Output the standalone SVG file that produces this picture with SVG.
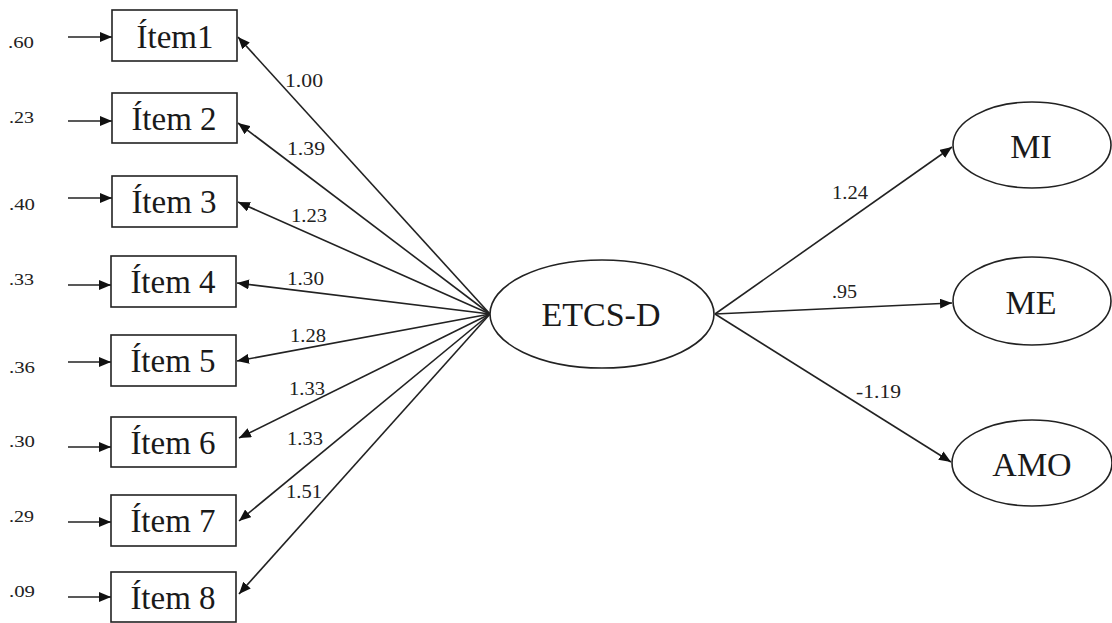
<svg xmlns="http://www.w3.org/2000/svg" width="1112" height="623" viewBox="0 0 1112 623">
  <style>
    .box { fill: #fff; stroke: #222; stroke-width: 1.6; }
    .lat { fill: #fff; stroke: #222; stroke-width: 1.6; }
    .name { font-family: "Liberation Serif", "Times New Roman", serif; font-size: 33px; fill: #1a1a1a; text-anchor: middle; }
    .coef { font-family: "Liberation Serif", "Times New Roman", serif; font-size: 18px; fill: #222; }
    .err { font-family: "Liberation Serif", "Times New Roman", serif; font-size: 16px; fill: #222; }
    .path { stroke: #222; stroke-width: 1.6; fill: none; marker-end: url(#head); }
  </style>
  <defs>
    <marker id="head" viewBox="0 0 12 10" refX="12" refY="5" markerWidth="12" markerHeight="10" markerUnits="userSpaceOnUse" orient="auto">
      <path d="M0,0 L12,5 L0,10 Z" fill="#111"/>
    </marker>
  </defs>

  <rect width="1112" height="623" fill="#fff"/>

  <!-- connectors -->
  <g id="connectors">
    <!-- error terms into the items -->
    <line class="path" x1="68" y1="37" x2="112" y2="37"/>
    <line class="path" x1="68" y1="121" x2="112" y2="121"/>
    <line class="path" x1="68" y1="198" x2="112" y2="198"/>
    <line class="path" x1="68" y1="285" x2="111" y2="285"/>
    <line class="path" x1="68" y1="362" x2="111" y2="362"/>
    <line class="path" x1="68" y1="447" x2="111" y2="447"/>
    <line class="path" x1="68" y1="522" x2="111" y2="522"/>
    <line class="path" x1="68" y1="597" x2="111" y2="597"/>
    <!-- loadings from ETCS-D -->
    <line class="path" x1="490" y1="314" x2="238" y2="37"/>
    <line class="path" x1="490" y1="314" x2="238" y2="123"/>
    <line class="path" x1="490" y1="314" x2="238" y2="202"/>
    <line class="path" x1="490" y1="314" x2="237" y2="283"/>
    <line class="path" x1="490" y1="314" x2="237" y2="361"/>
    <line class="path" x1="490" y1="314" x2="239" y2="438"/>
    <line class="path" x1="490" y1="314" x2="239" y2="521"/>
    <line class="path" x1="490" y1="314" x2="239" y2="594"/>
    <!-- paths to the second-order factors -->
    <line class="path" x1="715" y1="314" x2="952" y2="147"/>
    <line class="path" x1="715" y1="314" x2="952" y2="303"/>
    <line class="path" x1="715" y1="314" x2="951" y2="462"/>

    <!-- coefficient labels -->
    <text class="coef" x="285" y="87" textLength="38" lengthAdjust="spacingAndGlyphs">1.00</text>
    <text class="coef" x="287" y="155" textLength="38" lengthAdjust="spacingAndGlyphs">1.39</text>
    <text class="coef" x="291" y="222" textLength="36" lengthAdjust="spacingAndGlyphs">1.23</text>
    <text class="coef" x="287" y="285" textLength="37" lengthAdjust="spacingAndGlyphs">1.30</text>
    <text class="coef" x="290" y="342" textLength="36" lengthAdjust="spacingAndGlyphs">1.28</text>
    <text class="coef" x="289" y="395" textLength="36" lengthAdjust="spacingAndGlyphs">1.33</text>
    <text class="coef" x="287" y="445" textLength="36" lengthAdjust="spacingAndGlyphs">1.33</text>
    <text class="coef" x="286" y="498" textLength="36" lengthAdjust="spacingAndGlyphs">1.51</text>
    <text class="coef" x="832" y="199" textLength="36" lengthAdjust="spacingAndGlyphs">1.24</text>
    <text class="coef" x="832" y="298" textLength="25" lengthAdjust="spacingAndGlyphs">.95</text>
    <text class="coef" x="856" y="398" textLength="45" lengthAdjust="spacingAndGlyphs">-1.19</text>

    <!-- error variances -->
    <text class="err" x="8" y="48" textLength="26" lengthAdjust="spacingAndGlyphs">.60</text>
    <text class="err" x="9" y="123" textLength="25" lengthAdjust="spacingAndGlyphs">.23</text>
    <text class="err" x="9" y="210" textLength="26" lengthAdjust="spacingAndGlyphs">.40</text>
    <text class="err" x="9" y="285" textLength="25" lengthAdjust="spacingAndGlyphs">.33</text>
    <text class="err" x="9" y="373" textLength="26" lengthAdjust="spacingAndGlyphs">.36</text>
    <text class="err" x="9" y="447" textLength="26" lengthAdjust="spacingAndGlyphs">.30</text>
    <text class="err" x="9" y="522" textLength="25" lengthAdjust="spacingAndGlyphs">.29</text>
    <text class="err" x="9" y="597" textLength="26" lengthAdjust="spacingAndGlyphs">.09</text>
  </g>

  <!-- observed items -->
  <g id="item1"><rect class="box" x="112" y="10" width="125" height="51"/><text class="name" x="175" y="48">Ítem1</text></g>
  <g id="item2"><rect class="box" x="112" y="93" width="125" height="50"/><text class="name" x="174" y="130">Ítem 2</text></g>
  <g id="item3"><rect class="box" x="112" y="176" width="125" height="51"/><text class="name" x="174" y="213">Ítem 3</text></g>
  <g id="item4"><rect class="box" x="111" y="256" width="125" height="51"/><text class="name" x="173" y="293">Ítem 4</text></g>
  <g id="item5"><rect class="box" x="111" y="335" width="125" height="51"/><text class="name" x="173" y="372">Ítem 5</text></g>
  <g id="item6"><rect class="box" x="111" y="417" width="125" height="50"/><text class="name" x="173" y="454">Ítem 6</text></g>
  <g id="item7"><rect class="box" x="111" y="495" width="125" height="51"/><text class="name" x="173" y="532">Ítem 7</text></g>
  <g id="item8"><rect class="box" x="111" y="572" width="125" height="50"/><text class="name" x="173" y="609">Ítem 8</text></g>

  <!-- latent factors -->
  <g id="etcs-d"><ellipse class="lat" cx="602" cy="314" rx="112" ry="54"/><text class="name" x="601" y="326" style="font-size:34px">ETCS-D</text></g>
  <g id="mi"><ellipse class="lat" cx="1032" cy="145" rx="79" ry="43"/><text class="name" x="1031" y="158" style="font-size:34px">MI</text></g>
  <g id="me"><ellipse class="lat" cx="1032" cy="301" rx="79" ry="44"/><text class="name" x="1031" y="314" style="font-size:34px">ME</text></g>
  <g id="amo"><ellipse class="lat" cx="1032" cy="463" rx="80" ry="43"/><text class="name" x="1032" y="476" style="font-size:34px">AMO</text></g>
</svg>
